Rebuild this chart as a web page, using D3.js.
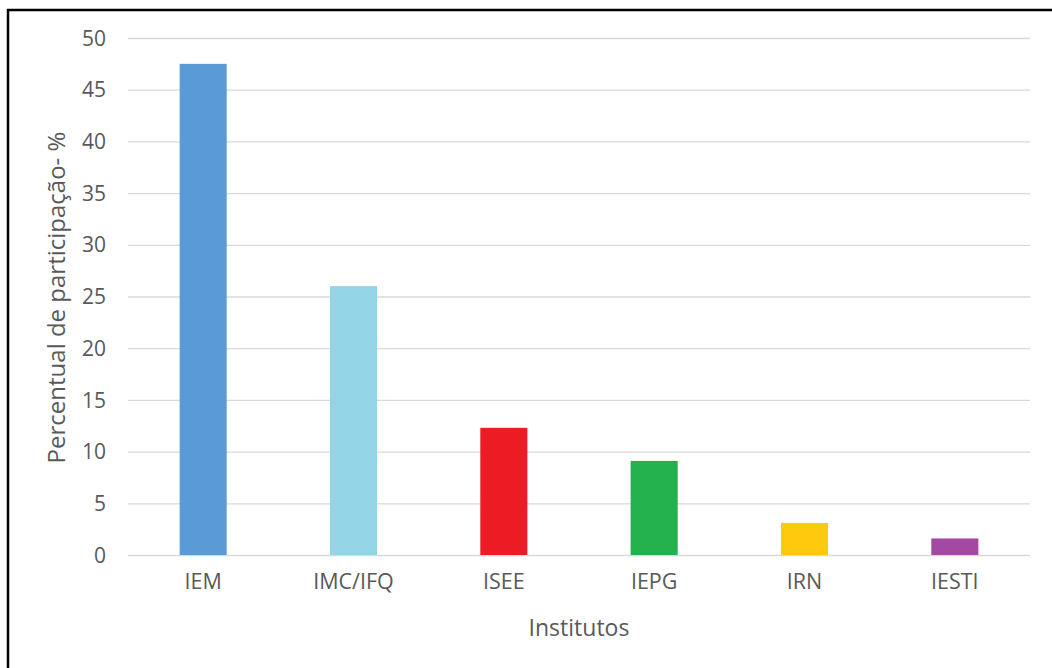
<!DOCTYPE html>
<html>
<head>
<meta charset="utf-8">
<script src="https://cdn.jsdelivr.net/npm/d3@7/dist/d3.min.js"></script>
<style>
  html, body { margin: 0; padding: 0; background: #fff; }
  svg { display: block; }
  text { font-family: "Open Sans", "DejaVu Sans", sans-serif; }
</style>
</head>
<body>
<svg id="chart" width="1052" height="668"></svg>
<script>
const categories = ["IEM", "IMC/IFQ", "ISEE", "IEPG", "IRN", "IESTI"];
const values = [47.5, 26, 12.3, 9.1, 3.1, 1.6];
const colors = ["#5b9bd5", "#93d5e6", "#ed1c24", "#22b14c", "#ffc90e", "#a349a4"];
const yTicks = [0, 5, 10, 15, 20, 25, 30, 35, 40, 45, 50];
const yTitle = "Percentual de participação- %";
const xTitle = "Institutos";

const svg = d3.select("#chart");
const W = 1052, H = 668;
const margin = { left: 128, right: 22, top: 38, bottom: 113 };
const plotW = W - margin.left - margin.right;
const plotH = H - margin.top - margin.bottom;

svg.append("rect").attr("width", W).attr("height", H).attr("fill", "#fff");
// frame (left & top visible)
svg.append("rect")
  .attr("x", 8).attr("y", 10)
  .attr("width", W + 20).attr("height", H + 20)
  .attr("fill", "none").attr("stroke", "#000").attr("stroke-width", 2.5);

const g = svg.append("g").attr("transform", `translate(${margin.left},${margin.top})`);

const x = d3.scaleBand().domain(categories).range([0, plotW]).paddingInner(0.687).paddingOuter(0.3435);
const y = d3.scaleLinear().domain([0, 50]).range([plotH, 0]);

// gridlines
const yAxis = d3.axisLeft(y).tickValues(yTicks).tickSize(-plotW).tickPadding(22).tickFormat(d3.format("d"));
const ya = g.append("g").call(yAxis);
ya.select(".domain").remove();
ya.selectAll(".tick line").attr("stroke", "#d9d9d9").attr("stroke-width", 1.3);
ya.selectAll(".tick text").attr("fill", "#595959").style("font-size", "21px").attr("dy", "0.34em");

// bars
g.selectAll("rect.bar").data(values).enter().append("rect")
  .attr("class", "bar")
  .attr("x", (d, i) => x(categories[i]))
  .attr("width", x.bandwidth())
  .attr("y", d => y(d))
  .attr("height", d => plotH - y(d))
  .attr("fill", (d, i) => colors[i]);

// x axis labels
const xAxis = d3.axisBottom(x).tickSize(0).tickPadding(19);
const xa = g.append("g").attr("transform", `translate(0,${plotH})`).call(xAxis);
xa.select(".domain").remove();
xa.selectAll(".tick text").attr("fill", "#595959").style("font-size", "21.5px");

// axis titles
svg.append("text")
  .attr("x", margin.left + plotW / 2).attr("y", 636)
  .attr("text-anchor", "middle").attr("fill", "#595959")
  .style("font-size", "23px").text(xTitle);

svg.append("text")
  .attr("transform", `translate(65,${margin.top + plotH / 2 + 1}) rotate(-90)`)
  .attr("text-anchor", "middle").attr("fill", "#595959")
  .style("font-size", "24px").text(yTitle);
</script>
</body>
</html>
